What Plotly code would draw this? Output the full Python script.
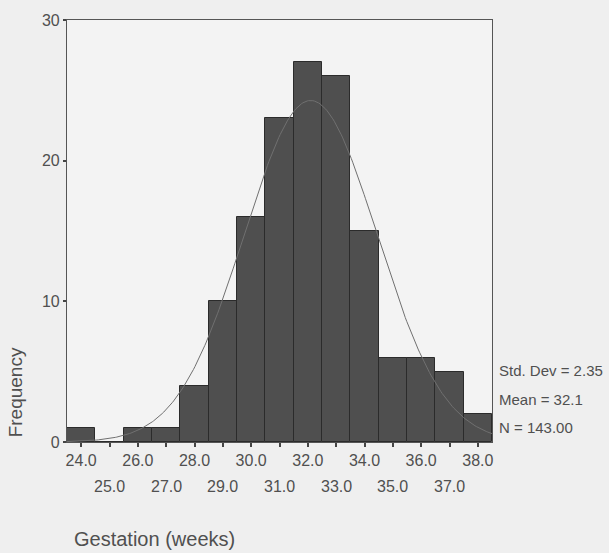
import numpy as np
import plotly.graph_objects as go

# Data
bin_centers = [24, 25, 26, 27, 28, 29, 30, 31, 32, 33, 34, 35, 36, 37, 38]
frequencies = [1, 0, 1, 1, 4, 10, 16, 23, 27, 26, 15, 6, 6, 5, 2]
even_ticks = [24, 26, 28, 30, 32, 34, 36, 38]
even_labels = ["24.0", "26.0", "28.0", "30.0", "32.0", "34.0", "36.0", "38.0"]
odd_ticks = [25, 27, 29, 31, 33, 35, 37]
odd_labels = ["25.0", "27.0", "29.0", "31.0", "33.0", "35.0", "37.0"]
y_ticks = [0, 10, 20, 30]
stat_std = 2.35
stat_mean = 32.1
stat_n = 143.00
bin_width = 1.0

# Fitted normal curve from the stated summary statistics
xc = np.linspace(23.5, 38.5, 300)
yc = stat_n * bin_width / (stat_std * np.sqrt(2 * np.pi)) * np.exp(-0.5 * ((xc - stat_mean) / stat_std) ** 2)

txt = "#505050"
fig = go.Figure()
fig.add_trace(go.Bar(x=bin_centers, y=frequencies, width=1.0,
                     marker=dict(color="#4f4f4f", line=dict(color="#2b2b2b", width=1)),
                     showlegend=False))
fig.add_trace(go.Scatter(x=xc, y=yc, mode="lines", line=dict(color="#707070", width=1),
                         showlegend=False))

even_map = dict(zip(even_ticks, even_labels))
fig.update_layout(
    width=609, height=553,
    margin=dict(l=67, r=117, t=17, b=111),
    paper_bgcolor="#efefef", plot_bgcolor="#f3f3f3",
    font=dict(family="Liberation Sans, Arial", size=16, color=txt),
    bargap=0,
    xaxis=dict(range=[23.5, 38.5], tickvals=bin_centers,
               ticktext=[even_map.get(v, "") for v in bin_centers],
               ticks="outside", ticklen=4, tickcolor="#444", tickwidth=2,
               showline=True, linecolor="#555", linewidth=1.2, mirror=True,
               showgrid=False, zeroline=False, tickfont=dict(size=16, color=txt)),
    yaxis=dict(range=[0, 30], tickvals=y_ticks, ticks="outside", ticklen=3,
               tickcolor="#444", tickwidth=2,
               showline=True, linecolor="#555", linewidth=1.2, mirror=True,
               showgrid=False, zeroline=False, tickfont=dict(size=16, color=txt)),
)

for v, lab in zip(odd_ticks, odd_labels):
    fig.add_annotation(x=v, y=-0.106, xref="x", yref="paper", text=lab, showarrow=False,
                       font=dict(size=16, color=txt), yanchor="middle")

stats = ["Std. Dev = %.2f" % stat_std, "Mean = %.1f" % stat_mean, "N = %.2f" % stat_n]
for i, s in enumerate(stats):
    fig.add_annotation(x=1.012, y=[0.169, 0.101, 0.035][i], xref="paper", yref="paper",
                       text=s, showarrow=False, xanchor="left", yanchor="middle",
                       font=dict(size=15, color=txt))

fig.add_annotation(x=-0.122, y=0.118, xref="paper", yref="paper", text="Frequency",
                   textangle=-90, showarrow=False, xanchor="center", yanchor="middle",
                   font=dict(size=19, color=txt))
fig.add_annotation(x=0.012, y=-0.231, xref="paper", yref="paper", text="Gestation (weeks)",
                   showarrow=False, xanchor="left", yanchor="middle",
                   font=dict(size=20, color=txt))

fig.write_html("out.html", config={"displayModeBar": False},
               post_script="document.body.style.margin='0';document.body.style.background='#efefef';")
